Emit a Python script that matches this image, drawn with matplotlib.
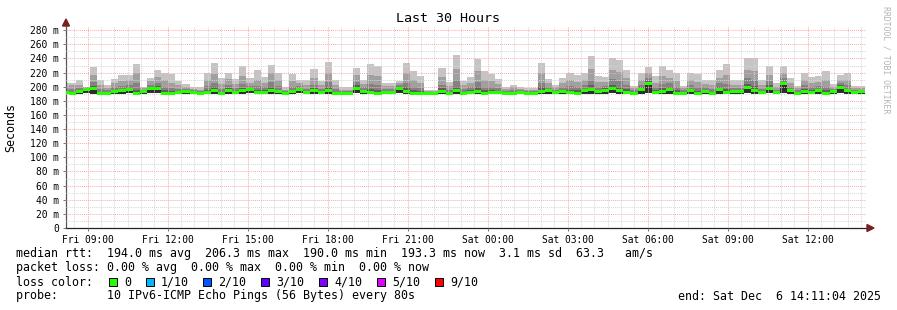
import numpy as np
import matplotlib
matplotlib.use("Agg")
import matplotlib.pyplot as plt
from matplotlib.patches import Polygon, Rectangle

# time axis in hours counted from Fri 00:00
x_start = 8 + 11 / 60 + 4 / 3600     # Fri 08:11:04
x_end = x_start + 30                  # Sat 14:11:04
bar_start = 8.018                     # first 16 min bucket (partly hidden)
bar_step = 16 / 60

tick_hours = [9, 12, 15, 18, 21, 24, 27, 30, 33, 36]
tick_labels = ["Fri 09:00", "Fri 12:00", "Fri 15:00", "Fri 18:00", "Fri 21:00",
               "Sat 00:00", "Sat 03:00", "Sat 06:00", "Sat 09:00", "Sat 12:00"]

# smoke: ping distribution per bucket (ms)
hi = [205, 205, 209, 200, 228, 209, 203, 211, 216, 216, 232, 200, 213, 223,
      220, 218, 208, 204, 200, 200, 220, 234, 213, 220, 211, 230, 212, 223,
      214, 231, 220, 199, 218, 209, 209, 225, 208, 235, 210, 199, 199, 226,
      210, 232, 230, 206, 206, 208, 234, 222, 215, 195, 195, 227, 207, 245,
      208, 214, 239, 222, 218, 211, 200, 203, 199, 198, 198, 234, 211, 203,
      212, 220, 217, 220, 243, 215, 214, 241, 238, 224, 201, 219, 228, 215, 229,
      224, 219, 201, 220, 218, 210, 210, 224, 232, 209, 209, 240, 240, 209, 229,
      205, 229, 212, 201, 220, 214, 215, 222, 204, 216, 219, 201, 201]
p9 = [200, 203, 203, 199, 217, 202, 198, 205, 208, 210, 220, 198, 208, 214,
      209, 206, 202, 200, 197, 196, 210, 218, 204, 211, 204, 215, 206, 210,
      205, 219, 210, 196, 208, 205, 203, 213, 202, 220, 203, 196, 196, 216,
      204, 217, 215, 201, 201, 205, 219, 210, 206, 194, 194, 214, 201, 225,
      202, 206, 222, 210, 208, 204, 197, 199, 197, 196, 196, 219, 205, 199,
      205, 209, 207, 210, 225, 207, 207, 224, 221, 212, 198, 210, 220, 206, 215,
      213, 208, 198, 210, 207, 204, 203, 213, 217, 203, 203, 224, 222, 203, 217,
      200, 220, 206, 198, 210, 206, 207, 210, 200, 210, 209, 198, 198]
p8 = [196, 197, 198, 198, 207, 197, 195, 199, 201, 203, 206, 196, 203, 206,
      200, 198, 197, 197, 195, 194, 201, 205, 197, 203, 198, 204, 201, 201,
      199, 207, 201, 194, 200, 201, 197, 203, 197, 207, 197, 194, 194, 207,
      199, 204, 203, 197, 197, 202, 206, 200, 198, 193, 193, 203, 196, 209,
      197, 199, 207, 200, 200, 198, 194, 195, 195, 194, 194, 206, 200, 196,
      199, 201, 199, 202, 210, 200, 201, 211, 208, 202, 195, 203, 213, 199, 204,
      205, 200, 195, 202, 199, 199, 197, 205, 204, 198, 198, 212, 209, 197, 208,
      196, 212, 200, 195, 202, 199, 201, 200, 197, 205, 202, 195, 196]
p7 = [194, 193, 195, 197, 201, 193, 193, 195, 197, 199, 196, 194, 200, 201,
      195, 194, 194, 195, 193, 192, 196, 199, 193, 198, 194, 198, 198, 196,
      195, 200, 196, 192, 196, 198, 194, 198, 194, 200, 193, 192, 192, 202,
      195, 197, 196, 194, 194, 200, 199, 195, 194, 192, 192, 198, 193, 200,
      193, 195, 199, 195, 195, 194, 192, 193, 193, 192, 192, 199, 197, 194,
      196, 196, 195, 197, 202, 196, 198, 203, 200, 197, 193, 199, 208, 195, 198,
      200, 195, 193, 197, 194, 195, 193, 200, 197, 195, 195, 204, 201, 194, 202,
      194, 207, 197, 193, 197, 195, 197, 195, 195, 202, 197, 194, 194]
median = [192, 191, 193, 196, 197, 191, 191, 193, 194, 196, 191, 193, 197, 198,
          191, 191, 192, 193, 192, 191, 192, 194, 191, 195, 192, 194, 196, 192,
          192, 195, 193, 191, 193, 196, 192, 194, 192, 195, 191, 191, 191, 198,
          193, 192, 191, 192, 192, 198, 193, 191, 191, 191, 191, 193, 191, 194,
          191, 192, 193, 191, 192, 192, 191, 191, 192, 191, 191, 193, 195, 192,
          193, 192, 191, 194, 196, 193, 195, 197, 194, 192, 191, 196, 205, 192, 193,
          196, 191, 191, 194, 191, 193, 191, 196, 192, 193, 193, 199, 195, 192, 198,
          192, 204, 195, 191, 193, 192, 194, 191, 193, 199, 194, 192, 193]
lo = [190, 190, 190, 191, 190, 190, 190, 190, 190, 191, 189, 190, 191, 191,
      190, 190, 190, 190, 190, 190, 190, 190, 190, 190, 190, 190, 191, 190,
      190, 190, 190, 190, 190, 191, 190, 190, 190, 190, 190, 190, 190, 191,
      190, 190, 189, 190, 190, 191, 190, 190, 190, 190, 190, 190, 190, 190,
      190, 190, 190, 190, 190, 190, 190, 190, 190, 190, 190, 190, 190, 190,
      190, 190, 190, 190, 190, 190, 190, 191, 190, 190, 190, 190, 191, 190, 190,
      190, 190, 190, 190, 190, 190, 190, 190, 190, 190, 190, 191, 190, 190, 191,
      190, 191, 190, 190, 190, 190, 190, 190, 190, 191, 190, 190, 190]

loss_labels = ["0", "1/10", "2/10", "3/10", "4/10", "5/10", "9/10"]
loss_colors = ["#26ff00", "#00b8ff", "#0059ff", "#5e00ff", "#7e00ff", "#dd00ff", "#ff0000"]

W, H = 897, 310
plt.rcParams["font.family"] = "DejaVu Sans Mono"


def px(x, y):
    return x / W, 1 - y / H


fig = plt.figure(figsize=(W / 100, H / 100), dpi=100)
fig.patch.set_facecolor("white")
ax = fig.add_axes([66 / W, (H - 228) / H, 800 / W, 202 / H])

edges = bar_start + bar_step * np.arange(len(hi) + 1)
lo_a = np.array(lo, float)

# smoke, lightest band first
smoke = [(hi, "#c4c4c4"), (p9, "#a0a0a0"), (p8, "#828282"), (p7, "#5e5e5e"), (median, "#2e2e2e")]
for vals, col in smoke:
    ax.stairs(vals, edges, baseline=lo_a, fill=True, color=col, lw=0, zorder=1)

# median drawn as a thick block, coloured by loss (all 0 here)
med_half = 2.1
med = np.array(median, float)
ax.stairs(med + med_half, edges, baseline=med - med_half, fill=True,
          color=loss_colors[0], lw=0, zorder=3)

ax.set_xlim(x_start, x_end)
ax.set_ylim(0, 286)
ax.set_xticks(tick_hours)
ax.set_xticklabels(tick_labels)
ax.set_xticks(np.arange(8.5, 38.5, 0.5), minor=True)
ax.set_yticks(np.arange(0, 281, 20))
ax.set_yticklabels(["0"] + [f"{v} m" for v in range(20, 281, 20)])
ax.set_yticks(np.arange(10, 281, 10), minor=True)

ax.set_axisbelow(False)
ax.grid(which="minor", color="#d6d6d6", ls=(0, (1, 1)), lw=0.7)
ax.grid(which="major", color="#ffa8a8", ls=(0, (1, 1)), lw=0.7)

for s in ["top", "right"]:
    ax.spines[s].set_visible(False)
ax.spines["left"].set_color("#555555")
ax.spines["bottom"].set_color("#222222")
ax.spines["left"].set_linewidth(0.9)
ax.spines["bottom"].set_linewidth(0.9)
ax.tick_params(which="both", length=2, width=0.7, color="#777777", labelsize=6.9, pad=3)
ax.tick_params(axis="x", which="minor", length=0)
ax.tick_params(axis="y", which="minor", length=0)
ax.set_facecolor("white")

# axis arrows
fig.add_artist(Polygon([px(62.5, 26), px(69.5, 26), px(66, 19)], closed=True,
                       transform=fig.transFigure, color="#7a1e1e"))
fig.add_artist(Polygon([px(867, 224.5), px(867, 231.5), px(874, 228)], closed=True,
                       transform=fig.transFigure, color="#7a1e1e"))

fig.text(*px(448, 19), "Last 30 Hours", ha="center", va="center", fontsize=9.6)
fig.text(*px(11, 127), "Seconds", ha="center", va="center", rotation=90, fontsize=8.4)
fig.text(*px(886, 60), "RRDTOOL / TOBI OETIKER", ha="center", va="center",
         rotation=270, fontsize=5.9, color="#b4b4b4")

fs = 8.4
fig.text(*px(16, 254), "median rtt:  194.0 ms avg  206.3 ms max  190.0 ms min  "
         "193.3 ms now  3.1 ms sd  63.3   am/s", va="center", fontsize=fs)
fig.text(*px(16, 268), "packet loss: 0.00 % avg  0.00 % max  0.00 % min  0.00 % now",
         va="center", fontsize=fs)
fig.text(*px(16, 282), "loss color:", va="center", fontsize=fs)
box_x = [109, 146, 203, 261, 319, 377, 435]
for bx, lab, col in zip(box_x, loss_labels, loss_colors):
    x0, y0 = px(bx, 286)
    fig.add_artist(Rectangle((x0, y0), 8 / W, 8 / H, transform=fig.transFigure,
                             facecolor=col, edgecolor="black", lw=0.7))
    fig.text(*px(bx + 15, 282), lab, va="center", fontsize=fs)
fig.text(*px(16, 296), "probe:       10 IPv6-ICMP Echo Pings (56 Bytes) every 80s",
         va="center", fontsize=fs)
fig.text(*px(881, 296), "end: Sat Dec  6 14:11:04 2025", ha="right", va="center", fontsize=fs)

fig.savefig("out.png", dpi=100, facecolor="white")
